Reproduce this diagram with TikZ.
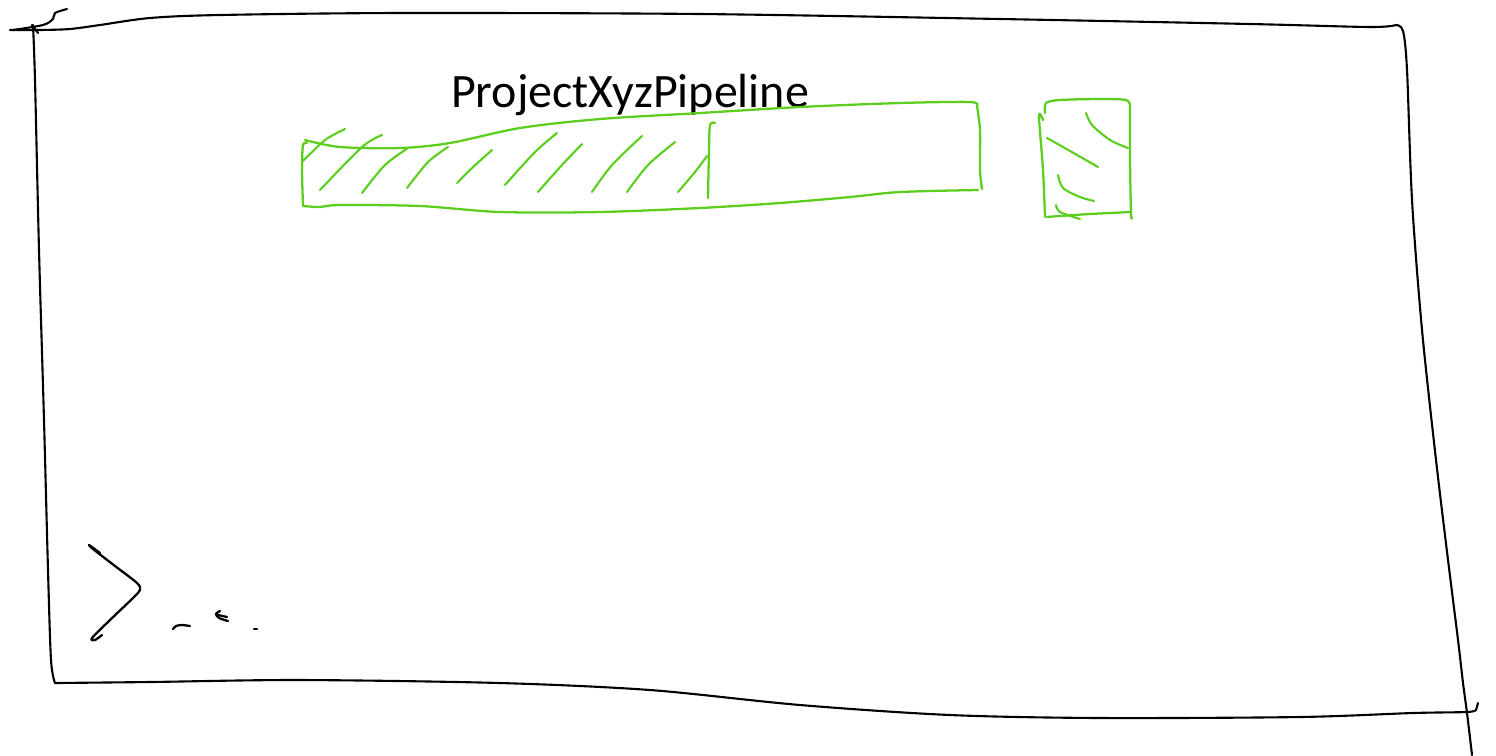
\documentclass[tikz,border=0pt]{standalone}
\usepackage{fontspec}
\setmainfont{Carlito}
\definecolor{sketchgreen}{RGB}{92,206,30}
\tikzset{
  frameline/.style={black, line width=1.2pt, line cap=round, line join=round},
  greenline/.style={sketchgreen, line width=1.3pt, line cap=round, line join=round},
  hatchline/.style={sketchgreen, line width=1.2pt, line cap=round},
  promptline/.style={black, line width=1.3pt, line cap=round, line join=round},
  titletext/.style={font=\fontsize{27.3}{32}\selectfont, inner sep=0pt, anchor=base}
}
\begin{document}
\begin{tikzpicture}[x=0.02cm, y=-0.02cm]
\useasboundingbox (0,0) rectangle (1496,755);

% outer frame
\draw[frameline] plot[smooth] coordinates {(10,30)(40,30)(70,29)(100,25)(150,18)(220,15)(400,13)(700,14)(1000,19)(1250,24)(1370,27)(1396,25)};
\draw[frameline] plot[smooth] coordinates {(1396,25)(1403,31)(1407,70)(1412,200)(1422,330)(1436,460)(1448,560)(1458,640)(1463,683)(1467,713)(1472,755)};
\draw[frameline] plot[smooth] coordinates {(33,25)(35,80)(39,250)(44,420)(48,570)(51,660)(55,683)};
\draw[frameline] plot[smooth] coordinates {(55,683)(150,682)(300,680)(500,683)(650,690)(800,705)(950,715)(1100,718)(1300,717)(1413,713)(1467,712)(1476,710)};
\draw[frameline] (1476,710) -- (1478,703);
\draw[frameline] plot[smooth] coordinates {(13,30)(43,25)(53,19)(55,13)(67,9)};
\draw[frameline] (32,25) -- (38,33);

% title
\node[titletext] (title) at (630,107) {ProjectXyzPipeline};

% progress bar outline
\draw[greenline] plot[smooth] coordinates {(305,140)(340,147)(400,148)(450,143)(520,128)(600,119)(700,113)(800,107)(900,103)(970,102)(977,106)};
\draw[greenline] plot[smooth] coordinates {(977,106)(980,130)(980,170)(982,189)};
\draw[greenline] plot[smooth] coordinates {(978,190)(900,192)(850,197)(780,203)(700,208)(600,212)(500,212)(420,206)(340,205)(320,207)(303,206)};
\draw[greenline] plot[smooth] coordinates {(303,206)(302,170)(303,145)(307,143)};
\draw[greenline] plot[smooth] coordinates {(708,198)(709,150)(710,125)(715,123)};

% hatching of the filled part
\draw[hatchline] plot[smooth] coordinates {(302,162)(325,140)(345,129)};
\draw[hatchline] plot[smooth] coordinates {(320,190)(362,147)(382,135)};
\draw[hatchline] plot[smooth] coordinates {(362,193)(385,165)(408,148)};
\draw[hatchline] plot[smooth] coordinates {(407,188)(428,162)(448,147)};
\draw[hatchline] plot[smooth] coordinates {(457,183)(472,168)(492,150)};
\draw[hatchline] plot[smooth] coordinates {(505,185)(535,152)(557,133)};
\draw[hatchline] plot[smooth] coordinates {(538,192)(562,165)(582,144)};
\draw[hatchline] plot[smooth] coordinates {(592,192)(612,165)(642,136)};
\draw[hatchline] plot[smooth] coordinates {(627,192)(648,165)(675,142)};
\draw[hatchline] plot[smooth] coordinates {(678,192)(695,172)(707,156)};

% small box
\draw[greenline] plot[smooth] coordinates {(1045,113)(1046,103)(1060,100)(1100,99)(1126,100)(1130,106)};
\draw[greenline] plot[smooth] coordinates {(1130,106)(1130,160)(1131,213)(1132,218)};
\draw[greenline] plot[smooth] coordinates {(1131,212)(1090,214)(1060,216)(1047,217)};
\draw[greenline] plot[smooth] coordinates {(1045,217)(1043,170)(1039,116)(1043,120)};
\draw[hatchline] plot[smooth] coordinates {(1086,113)(1092,125)(1110,140)(1128,148)};
\draw[hatchline] plot[smooth] coordinates {(1047,138)(1070,151)(1098,167)};
\draw[hatchline] plot[smooth] coordinates {(1058,175)(1063,188)(1080,197)(1094,201)};
\draw[hatchline] plot[smooth] coordinates {(1056,205)(1060,212)(1080,219)};

% prompt
\draw[promptline] plot[smooth] coordinates {(100,553)(92,547)(89,545)(93,549)(115,566)(137,583)(140,590)(133,598)(110,620)(92,638)(95,640)(102,635)};
\draw[promptline] plot[smooth] coordinates {(173,629)(176,626)(182,625)(190,626)};
\draw[promptline] plot[smooth] coordinates {(220,611)(216,614)(219,618)(228,621)};
\draw[promptline] (218,615) -- (227,617);
\draw[promptline] (254,629) -- (257,629);
\end{tikzpicture}
\end{document}
